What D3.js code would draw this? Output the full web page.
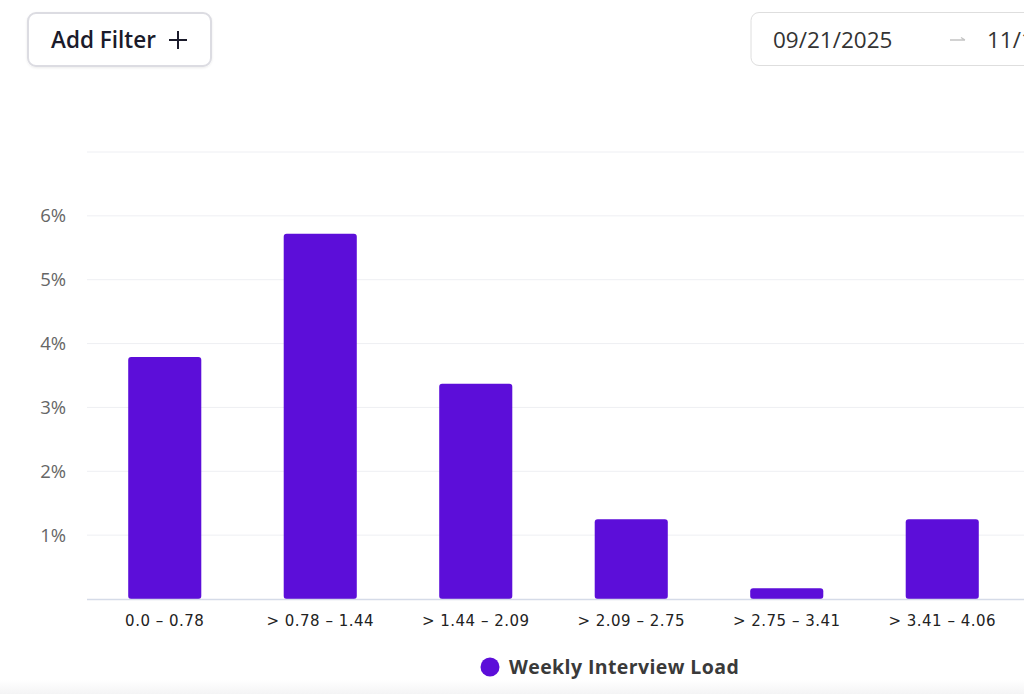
<!DOCTYPE html>
<html><head><meta charset="utf-8">
<script src="https://cdn.jsdelivr.net/npm/d3@7"></script>
<style>
html,body{margin:0;padding:0;background:#fff;overflow:hidden;}
svg{display:block;}
</style></head>
<body>
<svg id="chart" width="1024" height="694"></svg>
<script>
const categories = ["0.0 – 0.78", "> 0.78 – 1.44", "> 1.44 – 2.09", "> 2.09 – 2.75", "> 2.75 – 3.41", "> 3.41 – 4.06"];
const values = [3.79, 5.72, 3.37, 1.25, 0.17, 1.25];
const yTicks = [1, 2, 3, 4, 5, 6];
const gridTicks = [1, 2, 3, 4, 5, 6, 7];
const seriesName = "Weekly Interview Load";
const startDate = "09/21/2025";
const endDate = "11/19/2025";

const svg = d3.select("#chart");
const W = 1024, H = 694;

// bottom faint band
const defs = svg.append("defs");
const grad = defs.append("linearGradient").attr("id","fade").attr("x1",0).attr("y1",0).attr("x2",0).attr("y2",1);
grad.append("stop").attr("offset","0%").attr("stop-color","#ffffff");
grad.append("stop").attr("offset","100%").attr("stop-color","#f4f4f5");
svg.append("rect").attr("x",0).attr("y",680).attr("width",W).attr("height",14).attr("fill","url(#fade)");

// header: Add Filter button
const filt = defs.append("filter").attr("id","sh").attr("x","-10%").attr("y","-10%").attr("width","120%").attr("height","130%");
filt.append("feDropShadow").attr("dx",0).attr("dy",1).attr("stdDeviation",1.2).attr("flood-color","#000").attr("flood-opacity",0.08);
svg.append("rect").attr("x",28).attr("y",13).attr("width",183).attr("height",53).attr("rx",8)
  .attr("fill","#fff").attr("stroke","#dcdce2").attr("stroke-width",2).attr("filter","url(#sh)");
svg.append("text").attr("x",51).attr("y",48).attr("font-family","Open Sans").attr("font-size",22.5)
  .attr("font-weight",600).attr("fill","#1b1b2b").text("Add Filter");
svg.append("path").attr("d","M169,40H187M178,31V49").attr("stroke","#1b1b2b").attr("stroke-width",2);

// date range box
svg.append("rect").attr("x",751).attr("y",12.5).attr("width",300).attr("height",53).attr("rx",8)
  .attr("fill","#fff").attr("stroke","#dedede").attr("stroke-width",1);
svg.append("text").attr("x",773).attr("y",48).attr("font-family","Open Sans").attr("font-size",22.5)
  .attr("fill","#333").text(startDate);
svg.append("path").attr("d","M950,40H965M961,37.5L965,40").attr("stroke","#c4c4c4").attr("stroke-width",1.3).attr("fill","none");
svg.append("text").attr("x",987).attr("y",48).attr("font-family","Open Sans").attr("font-size",22.5)
  .attr("fill","#333").text(endDate);

// scales
const x = d3.scaleBand().domain(categories).range([87, 1020]).paddingInner(0.53).paddingOuter(0.265);
const y = d3.scaleLinear().domain([0, 7]).range([599, 152]);

// gridlines
svg.append("g").selectAll("line").data(gridTicks).join("line")
  .attr("x1",87).attr("x2",W).attr("y1",d=>y(d)).attr("y2",d=>y(d))
  .attr("stroke","#eeeff3").attr("stroke-width",1);

// y axis labels
const yAxis = d3.axisLeft(y).tickValues(yTicks).tickFormat(d=>d+"%").tickSize(0).tickPadding(0);
const yg = svg.append("g").attr("transform","translate(66,0)").call(yAxis);
yg.select(".domain").remove();
yg.selectAll("text").attr("font-family","Open Sans").attr("font-size",18.5).attr("fill","#666");

// bars
svg.append("g").selectAll("path").data(values).join("path")
  .attr("fill","#5c0ed9")
  .attr("d",(d,i)=>{
    const x0 = x(categories[i]), w = x.bandwidth(), y0 = y(d), y1 = y(0), r = 3;
    return `M${x0},${y1-r}V${y0+r}Q${x0},${y0} ${x0+r},${y0}H${x0+w-r}Q${x0+w},${y0} ${x0+w},${y0+r}V${y1-r}Q${x0+w},${y1} ${x0+w-r},${y1}H${x0+r}Q${x0},${y1} ${x0},${y1-r}Z`;
  });

// x axis
svg.append("line").attr("x1",87).attr("x2",W).attr("y1",599.5).attr("y2",599.5).attr("stroke","#d5dbe8").attr("stroke-width",1.5);
const xAxis = d3.axisBottom(x).tickSize(0).tickPadding(0);
const xg = svg.append("g").attr("transform","translate(0,626)").call(xAxis);
xg.select(".domain").remove();
xg.selectAll("text").attr("dy",0).attr("font-family","'DejaVu Sans', sans-serif").attr("font-size",15)
  .attr("letter-spacing",0.5).attr("fill","#222");

// legend
svg.append("circle").attr("cx",490).attr("cy",667).attr("r",9.5).attr("fill","#5c0ed9");
svg.append("text").attr("x",509).attr("y",674).attr("font-family","Open Sans").attr("font-weight",700)
  .attr("font-size",19.5).attr("fill","#3a3a3a").attr("letter-spacing",0.4).text(seriesName);
</script>
</body></html>
